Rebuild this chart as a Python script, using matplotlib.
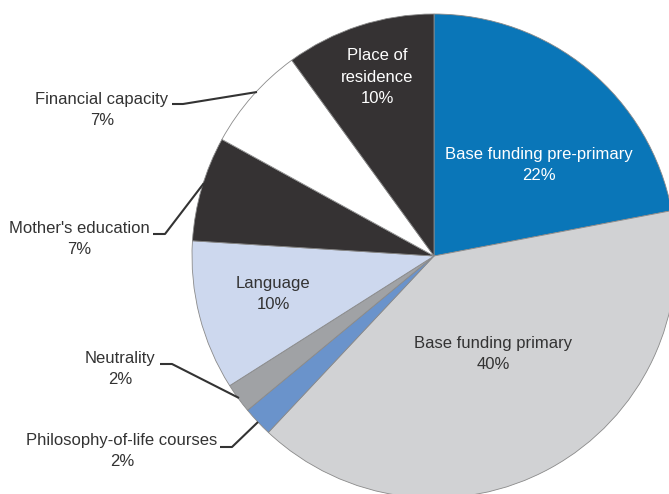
import matplotlib.pyplot as plt
from matplotlib import font_manager

# Pie slices, clockwise from 12 o'clock
labels = ["Base funding pre-primary", "Base funding primary", "Philosophy-of-life courses",
          "Neutrality", "Language", "Mother's education", "Financial capacity", "Place of residence"]
shares = [22, 40, 2, 2, 10, 7, 7, 10]
colors = ["#0a76b8", "#d1d2d4", "#6a93cb", "#a0a2a5", "#cdd8ee", "#353233", "#ffffff", "#353233"]

names = {f.name for f in font_manager.fontManager.ttflist}
fam = ["Liberation Sans Narrow"] if "Liberation Sans Narrow" in names else ["Liberation Sans"]
plt.rcParams["font.family"] = fam + ["DejaVu Sans"]

W, H = 669, 494
fig = plt.figure(figsize=(W / 100, H / 100), dpi=100)
ax = fig.add_axes([0, 0, 1, 1])

cx, cy, r = 434, 256, 242
# y-axis is flipped below, so counterclock=True from -90 reads clockwise from the top
ax.pie(shares, colors=colors, startangle=-90, counterclock=True,
       center=(cx, cy), radius=r, frame=True,
       wedgeprops=dict(edgecolor="#8a8a8a", linewidth=0.6))
ax.set_xlim(0, W)
ax.set_ylim(H, 0)
ax.set_aspect("equal")
ax.axis("off")

dark = "#333333"
fs = 12
ls = 1.58

# labels inside the pie
ax.text(377, 77, "Place of\nresidence\n10%", color="white", ha="center", va="center",
        fontsize=fs, linespacing=ls)
ax.text(539, 165, "Base funding pre-primary\n22%", color="white", ha="center", va="center",
        fontsize=fs, linespacing=ls)
ax.text(493, 354, "Base funding primary\n40%", color=dark, ha="center", va="center",
        fontsize=fs, linespacing=ls)
ax.text(273, 294, "Language\n10%", color=dark, ha="center", va="center",
        fontsize=fs, linespacing=ls)

# outside labels with leader lines
outside = [
    ("Financial capacity\n7%", (102, 110), [(172, 104), (183, 104), (257, 92)]),
    ("Mother's education\n7%", (79, 239), [(153, 234), (165, 234), (204, 183)]),
    ("Neutrality\n2%", (120, 369), [(160, 364), (172, 364), (239, 398)]),
    ("Philosophy-of-life courses\n2%", (122, 451), [(220, 447), (232, 447), (258, 422)]),
]
for txt, (tx, ty), pts in outside:
    ax.text(tx, ty, txt, color=dark, ha="center", va="center", fontsize=fs, linespacing=ls)
    xs, ys = zip(*pts)
    ax.plot(xs, ys, color=dark, lw=1.5, solid_capstyle="butt")

fig.savefig("out.png", dpi=100)
